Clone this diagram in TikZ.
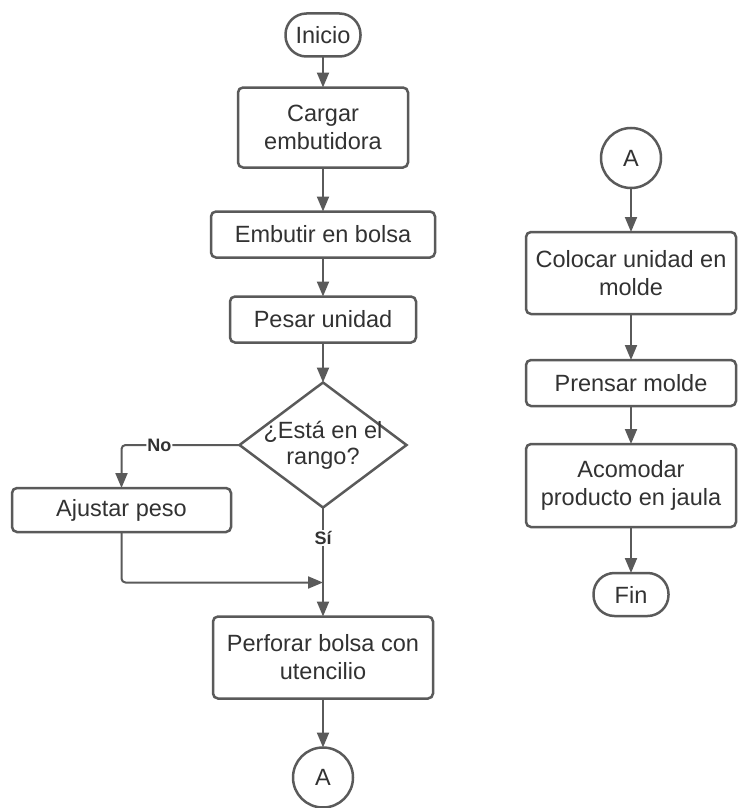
\documentclass[tikz,border=0pt]{standalone}
\usepackage{fontspec}
\setmainfont{Liberation Sans}
\usepackage{tikz}
\usetikzlibrary{positioning,arrows.meta,shapes.geometric}
\definecolor{linea}{RGB}{90,90,90}
\definecolor{texto}{RGB}{50,50,50}

\begin{document}
\begin{tikzpicture}[
    x=1pt, y=1pt,
    font=\fontsize{23.5}{28}\selectfont,
    text=texto,
    proceso/.style={rectangle, draw=linea, line width=2.5pt, rounded corners=5pt,
      fill=white, align=center, inner sep=0pt, outer sep=0pt, minimum height=46pt},
    terminal/.style={rectangle, draw=linea, line width=2.5pt, rounded corners=21pt,
      minimum width=75pt, minimum height=43pt, inner sep=0pt, outer sep=0pt},
    conector/.style={circle, draw=linea, line width=2.5pt, minimum size=60pt,
      inner sep=0pt, outer sep=0pt},
    decision/.style={diamond, draw=linea, line width=2.5pt, minimum width=167pt,
      minimum height=125pt, inner sep=0pt, outer sep=0pt},
    etiqueta/.style={fill=white, font=\fontsize{18}{20}\selectfont\bfseries, inner sep=1pt},
    flujo/.style={draw=linea, line width=2pt, -{Triangle[length=15pt,width=12pt]}}
  ]
    \useasboundingbox (0,0) rectangle (737,-808);

    % columna izquierda
    \node[terminal] (inicio) at (323,-35) {Inicio};
    \node[proceso, minimum width=170pt, minimum height=80pt, below=31pt of inicio] (cargar)
      {Cargar\\embutidora};
    \node[proceso, minimum width=224pt, below=44pt of cargar] (embutir) {Embutir en bolsa};
    \node[proceso, minimum width=186pt, below=39pt of embutir] (pesar) {Pesar unidad};
    \node[decision, below=40pt of pesar,
      label={[align=center, font=\fontsize{23.5}{26}\selectfont]center:{¿Está en el\\rango?}}] (rango) {};
    \node[proceso, minimum width=219pt, minimum height=44pt] (ajustar) at (121.5,-510) {Ajustar peso};
    \node[proceso, minimum width=220pt, minimum height=82pt, below=109pt of rango] (perforar)
      {Perforar bolsa con\\utencilio};
    \node[conector, below=49pt of perforar] (a1) {A};
    \coordinate[below=75pt of rango.south] (union);

    % columna derecha
    \node[conector] (a2) at (631,-158) {A};
    \node[proceso, minimum width=210pt, minimum height=82pt, below=44pt of a2] (colocar)
      {Colocar unidad en\\molde};
    \node[proceso, minimum width=210pt, below=46pt of colocar] (prensar) {Prensar molde};
    \node[proceso, minimum width=210pt, minimum height=83pt, below=38pt of prensar] (acomodar)
      {Acomodar\\producto en jaula};
    \node[terminal, below=46pt of acomodar] (fin) {Fin};

    \draw[flujo] (inicio) -- (cargar);
    \draw[flujo] (cargar) -- (embutir);
    \draw[flujo] (embutir) -- (pesar);
    \draw[flujo] (pesar) -- (rango);
    \draw[flujo, rounded corners=4pt] (rango.west) -| node[etiqueta, pos=0.34] {No} (ajustar.north);
    \draw[flujo] (rango) -- node[etiqueta, pos=0.28] {Sí} (perforar);
    \draw[flujo, rounded corners=4pt] (ajustar.south) |- (union);
    \draw[flujo] (perforar) -- (a1);

    \draw[flujo] (a2) -- (colocar);
    \draw[flujo] (colocar) -- (prensar);
    \draw[flujo] (prensar) -- (acomodar);
    \draw[flujo] (acomodar) -- (fin);
\end{tikzpicture}
\end{document}
